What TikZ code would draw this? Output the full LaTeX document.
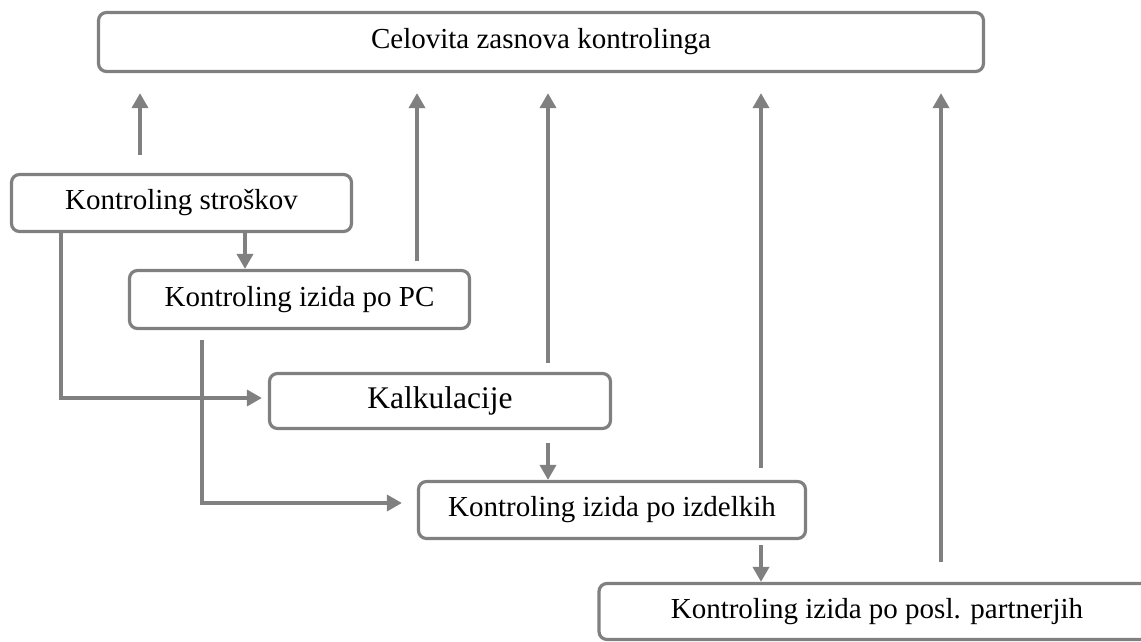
\documentclass[tikz,border=0pt]{standalone}
\usepackage{fontspec}
\setmainfont{Liberation Serif}
\usetikzlibrary{arrows.meta}
\definecolor{boxgray}{RGB}{128,128,128}
\begin{document}
\begin{tikzpicture}[x=0.5pt, y=-0.5pt, box/.style={draw=boxgray, line width=1.6pt, rounded corners=4pt, minimum width=170pt, minimum height=28.5pt, inner sep=0pt, font=\fontsize{14.5}{17}\selectfont}, link/.style={-{Triangle[length=7.5pt, width=8pt]}, draw=boxgray, line width=1.8pt}, big/.style={font=\fontsize{15.75}{19}\selectfont}]
\useasboundingbox (0,0) rectangle (1141,642);

\node[box, minimum width=442.5pt, minimum height=29.5pt] (whole) at (541,42) {Celovita zasnova kontrolinga};
\node[box] (cost) at (181.5,203) {Kontroling stroškov}; \node[box, minimum height=29pt] (pc) at (299.5,299.5) {Kontroling izida po PC};
\node[box, big, minimum width=170.5pt, minimum height=27.5pt] (calc) at (440,401) {Kalkulacije};
\node[box, minimum width=193.5pt] (prod) at (612,510) {Kontroling izida po izdelkih};
\node[box, minimum width=278pt, minimum height=28pt] (part) at (877,611.5) {Kontroling izida po posl. partnerjih};

% up to the whole concept
\draw[link, shorten <=9pt, shorten >=10pt] ([xshift=-20.75pt]cost.north) coordinate (u1) -- (whole.south -| u1);
\draw[link, shorten <=4pt, shorten >=10pt] ([xshift=58.75pt]pc.north) coordinate (u2) -- (whole.south -| u2);
\draw[link, shorten <=4.5pt, shorten >=10pt] ([xshift=54pt]calc.north) coordinate (u3) -- (whole.south -| u3);
\draw[link, shorten <=6pt, shorten >=10pt] ([xshift=74.5pt]prod.north) coordinate (u4) -- (whole.south -| u4);
\draw[link, shorten <=10pt, shorten >=10pt] ([xshift=32pt]part.north) coordinate (u5) -- (whole.south -| u5);

% down the chain
\draw[link] ([xshift=31.75pt]cost.south) coordinate (d1) -- (pc.north -| d1);
\draw[link, shorten >=3pt] ([xshift=-60.25pt]cost.south) |- ([yshift=1.5pt]calc.west);
\draw[link, shorten <=5pt, shorten >=7.5pt] ([xshift=-48.75pt]pc.south) |- ([yshift=3.5pt]prod.west);
\draw[link, shorten <=6.5pt] ([xshift=54pt]calc.south) coordinate (d2) -- (prod.north -| d2);
\draw[link, shorten <=2.5pt] ([xshift=74.5pt]prod.south) coordinate (d3) -- (part.north -| d3);
\end{tikzpicture}
\end{document}
